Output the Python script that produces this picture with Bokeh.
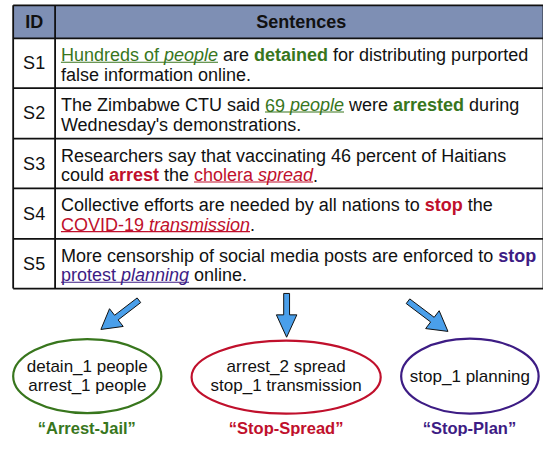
import glob
import subprocess
from bokeh.plotting import figure
from bokeh.models import Range1d, ColumnDataSource
from bokeh.core.properties import value
from bokeh.embed import file_html
from bokeh.resources import INLINE

# ---------------- content ----------------
header_labels = ["ID", "Sentences"]
row_ids = ["S1", "S2", "S3", "S4", "S5"]

# (text, kind, colour key) ; kind: n normal, b bold, u underline, ui underline+italic
s1_lines = [
    [("Hundreds of ", "u", "green"), ("people", "ui", "green"), (" are ", "n", None),
     ("detained", "b", "green"), (" for distributing purported", "n", None)],
    [("false information online.", "n", None)],
]
s2_lines = [
    [("The Zimbabwe CTU said ", "n", None), ("69 ", "u", "green"), ("people", "ui", "green"),
     (" were ", "n", None), ("arrested", "b", "green"), (" during", "n", None)],
    [("Wednesday's demonstrations.", "n", None)],
]
s3_lines = [
    [("Researchers say that vaccinating 46 percent of Haitians", "n", None)],
    [("could ", "n", None), ("arrest", "b", "red"), (" the ", "n", None),
     ("cholera ", "u", "red"), ("spread", "ui", "red"), (".", "n", None)],
]
s4_lines = [
    [("Collective efforts are needed by all nations to ", "n", None), ("stop", "b", "red"),
     (" the", "n", None)],
    [("COVID-19 ", "u", "red"), ("transmission", "ui", "red"), (".", "n", None)],
]
s5_lines = [
    [("More censorship of social media posts are enforced to ", "n", None), ("stop", "b", "purple")],
    [("protest ", "u", "purple"), ("planning", "ui", "purple"), (" online.", "n", None)],
]
sentences = [s1_lines, s2_lines, s3_lines, s4_lines, s5_lines]

cluster_members = [["detain_1 people", "arrest_1 people"],
                   ["arrest_2 spread", "stop_1 transmission"],
                   ["stop_1 planning"]]
cluster_names = ["\u201cArrest-Jail\u201d", "\u201cStop-Spread\u201d", "\u201cStop-Plan\u201d"]
cluster_color_keys = ["green", "red", "purple"]

COLORS = {"green": "#38761D", "red": "#C0102C", "purple": "#3D1C84", None: "#111111"}
HEADER_FILL = "#7E8FB4"
ARROW_FILL = "#4A9FEA"
FONT = "Liberation Sans"

# ---------------- layout ----------------
W, H = 543, 436
X0, X1 = 0, 557
Y0, Y1 = 0, 448
SX = W / (X1 - X0)
SY = H / (Y1 - Y0)

table_left, table_right = 13, 557
id_col_right = 56
header_top, header_bottom = 5, 39
row_edges = [39, 90, 142, 193, 245, 296]
line_middles = [17.5, 37.5]
underline_drop = 7.0
text_left = 62
FS_BODY = 18
FS_CLUSTER = 17
FS_LABEL = 16.5

ell_x = [89, 293, 481.5]
ell_y = [386, 387, 386]
ell_w = [152, 194, 141]
ell_h = [76, 75, 77]
member_line_y = [[376.5, 395.5], [376.5, 395.5], [386.5]]
label_y = 439
label_x = [88.5, 293, 481]

arrow_tails = [(142, 308), (293.5, 301), (418, 309)]
arrow_tips = [(103, 338), (293.5, 346), (459, 340)]
arrow_head_len = [20, 23, 20]
arrow_head_half = [11.5, 10.5, 11.5]
arrow_shaft_half = 3.0

# ---------------- font measuring ----------------
_font_cache = {}


def _font_path(style):
    pat = {"normal": "Regular", "bold": "Bold", "italic": "Italic", "bold italic": "BoldItalic"}[style]
    try:
        out = subprocess.run(["fc-match", f"Liberation Sans:style={pat}", "-f", "%{file}"],
                             capture_output=True, text=True, timeout=5).stdout.strip()
        if out and "Liberation" in out:
            return out
    except Exception:
        pass
    hits = glob.glob(f"/usr/share/fonts/**/LiberationSans-{pat}.ttf", recursive=True)
    return hits[0] if hits else None


def measure(text, style, size):
    if style not in _font_cache:
        try:
            from PIL import ImageFont
            path = _font_path(style)
            _font_cache[style] = ImageFont.truetype(path, 100) if path else None
        except Exception:
            _font_cache[style] = None
    f = _font_cache[style]
    if f is None:
        return len(text) * 0.52 * size
    return f.getlength(text) * size / 100.0


# ---------------- figure ----------------
p = figure(width=W, height=H, x_range=Range1d(X0, X1), y_range=Range1d(Y1, Y0),
           output_backend="svg", toolbar_location=None, min_border=0,
           x_axis_location=None, y_axis_location=None)
p.grid.visible = False
p.outline_line_color = None
p.background_fill_color = "white"
p.border_fill_color = "white"

# header band
p.quad(left=[table_left], right=[table_right], top=[header_top], bottom=[header_bottom],
       fill_color=HEADER_FILL, line_color=None)

# table rules
hx0, hx1, hy0, hy1 = [], [], [], []
for yv in [header_top, header_bottom] + row_edges[1:]:
    hx0.append(table_left); hx1.append(table_right); hy0.append(yv); hy1.append(yv)
for xv in [table_left, id_col_right, table_right]:
    hx0.append(xv); hx1.append(xv); hy0.append(header_top); hy1.append(row_edges[-1])
p.segment(x0=hx0, y0=hy0, x1=hx1, y1=hy1, line_color="#111111", line_width=1.8)

# header text
p.text(x=[(table_left + id_col_right) / 2, (id_col_right + table_right) / 2 + 2],
       y=[(header_top + header_bottom) / 2] * 2, text=header_labels,
       text_font=value(FONT), text_font_style="bold", text_font_size=f"{FS_BODY}px",
       text_align="center", text_baseline="middle", text_color="#111111")

# row ids
p.text(x=[(table_left + id_col_right) / 2] * len(row_ids),
       y=[(row_edges[i] + row_edges[i + 1]) / 2 for i in range(len(row_ids))], text=row_ids,
       text_font=value(FONT), text_font_size=f"{FS_BODY}px",
       text_align="center", text_baseline="middle", text_color="#111111")

# sentence runs
tx, ty, tt, tc, ts = [], [], [], [], []
ux0, ux1, uy, uc = [], [], [], []
style_of = {"n": "normal", "b": "bold", "u": "normal", "ui": "italic"}
for i, lines in enumerate(sentences):
    top = row_edges[i]
    for j, segs in enumerate(lines):
        mid = top + line_middles[j]
        xpx = 0.0
        for text, kind, ck in segs:
            st = style_of[kind]
            w = measure(text, st, FS_BODY)
            stripped = text.strip(" ")
            lead = len(text) - len(text.lstrip(" "))
            lw = measure(" " * lead, st, FS_BODY) if lead else 0.0
            if stripped:
                tx.append(text_left + (xpx + lw) / SX)
                ty.append(mid)
                tt.append(stripped)
                tc.append(COLORS[ck])
                ts.append(st)
            if kind in ("u", "ui"):
                ux0.append(text_left + xpx / SX)
                ux1.append(text_left + (xpx + w) / SX)
                uy.append(mid + underline_drop)
                uc.append(COLORS[ck])
            xpx += w

src = ColumnDataSource(dict(x=tx, y=ty, text=tt, color=tc, style=ts))
p.text(x="x", y="y", text="text", source=src, text_color="color", text_font_style="style",
       text_font=value(FONT), text_font_size=f"{FS_BODY}px", text_baseline="middle",
       text_align="left")
p.segment(x0=ux0, y0=uy, x1=ux1, y1=uy, line_color=uc, line_width=1.1)

# arrows
axs, ays = [], []
for (tx0, ty0), (px0, py0), hl, hh in zip(arrow_tails, arrow_tips, arrow_head_len, arrow_head_half):
    dx, dy = px0 - tx0, py0 - ty0
    L = (dx * dx + dy * dy) ** 0.5
    ux_, uy_ = dx / L, dy / L
    nx, ny = -uy_, ux_
    bx, by = px0 - ux_ * hl, py0 - uy_ * hl
    s = arrow_shaft_half
    pts = [(tx0 + nx * s, ty0 + ny * s), (bx + nx * s, by + ny * s), (bx + nx * hh, by + ny * hh),
           (px0, py0), (bx - nx * hh, by - ny * hh), (bx - nx * s, by - ny * s),
           (tx0 - nx * s, ty0 - ny * s)]
    axs.append([q[0] for q in pts]); ays.append([q[1] for q in pts])
p.patches(xs=axs, ys=ays, fill_color=ARROW_FILL, line_color="#111111", line_width=1.0)

# ellipses
p.ellipse(x=ell_x, y=ell_y, width=ell_w, height=ell_h, fill_color="white",
          line_color=[COLORS[k] for k in cluster_color_keys], line_width=2.2)

# cluster members
mx, my, mt = [], [], []
for k, members in enumerate(cluster_members):
    for t, yv in zip(members, member_line_y[k]):
        mx.append(ell_x[k]); my.append(yv); mt.append(t)
p.text(x=mx, y=my, text=mt, text_font=value(FONT), text_font_size=f"{FS_CLUSTER}px",
       text_align="center", text_baseline="middle", text_color="#111111")

# cluster names
p.text(x=label_x, y=[label_y] * 3, text=cluster_names,
       text_color=[COLORS[k] for k in cluster_color_keys],
       text_font=value(FONT), text_font_style="bold", text_font_size=f"{FS_LABEL}px",
       text_align="center", text_baseline="middle")

open("out.html", "w").write(file_html(p, INLINE))
